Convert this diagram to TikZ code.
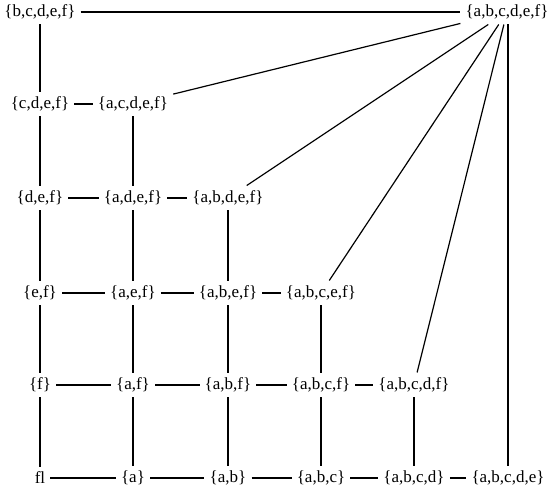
\documentclass[tikz,border=0pt]{standalone}
\usepackage{fontspec}
\setmainfont{Liberation Serif}
\usepackage{tikz}
\tikzset{
  set/.style={inner sep=5pt,font=\fontsize{17}{20}\selectfont},
  edge/.style={line width=1.2pt,draw=black},
}
\begin{document}
\begin{tikzpicture}[x=1pt,y=-1pt]
  \useasboundingbox (0,0) rectangle (554,494);
  % top row
  \node[set] (bcdef) at (40,12) {\{b,c,d,e,f\}};
  \node[set] (abcdef) at (507,12) {\{a,b,c,d,e,f\}};
  % sets without b
  \node[set] (cdef) at (40,104) {\{c,d,e,f\}};
  \node[set] (acdef) at (133,104) {\{a,c,d,e,f\}};
  % sets without c
  \node[set] (def) at (40,198) {\{d,e,f\}};
  \node[set] (adef) at (133,198) {\{a,d,e,f\}};
  \node[set] (abdef) at (228,198) {\{a,b,d,e,f\}};
  % sets without d
  \node[set] (ef) at (40,293) {\{e,f\}};
  \node[set] (aef) at (133,293) {\{a,e,f\}};
  \node[set] (abef) at (228,293) {\{a,b,e,f\}};
  \node[set] (abcef) at (321,293) {\{a,b,c,e,f\}};
  % sets without e
  \node[set] (f) at (40,385) {\{f\}};
  \node[set] (af) at (133,385) {\{a,f\}};
  \node[set] (abf) at (228,385) {\{a,b,f\}};
  \node[set] (abcf) at (321,385) {\{a,b,c,f\}};
  \node[set] (abcdf) at (414,385) {\{a,b,c,d,f\}};
  % sets without f
  \node[set] (empty) at (40,478) {fl};
  \node[set] (a) at (133,478) {\{a\}};
  \node[set] (ab) at (228,478) {\{a,b\}};
  \node[set] (abc) at (321,478) {\{a,b,c\}};
  \node[set] (abcd) at (414,478) {\{a,b,c,d\}};
  \node[set] (abcde) at (508,478) {\{a,b,c,d,e\}};
  % rows
  \draw[edge] (bcdef) -- (abcdef);
  \draw[edge] (cdef) -- (acdef);
  \draw[edge] (def) -- (adef) -- (abdef);
  \draw[edge] (ef) -- (aef) -- (abef) -- (abcef);
  \draw[edge] (f) -- (af) -- (abf) -- (abcf) -- (abcdf);
  \draw[edge] (empty) -- (a) -- (ab) -- (abc) -- (abcd) -- (abcde);
  % columns
  \draw[edge] (bcdef) -- (cdef) -- (def) -- (ef) -- (f) -- (empty);
  \draw[edge] (acdef) -- (adef) -- (aef) -- (af) -- (a);
  \draw[edge] (abdef) -- (abef) -- (abf) -- (ab);
  \draw[edge] (abcef) -- (abcf) -- (abc);
  \draw[edge] (abcdf) -- (abcd);
  \draw[edge] (abcde.north) -- (abcde.north |- abcdef.south);
  % fan from the full set
  \draw[edge] (abcdef) -- (acdef);
  \draw[edge] (abcdef) -- (abdef);
  \draw[edge] (abcdef) -- (abcef);
  \draw[edge] (abcdef) -- (abcdf);
\end{tikzpicture}
\end{document}
